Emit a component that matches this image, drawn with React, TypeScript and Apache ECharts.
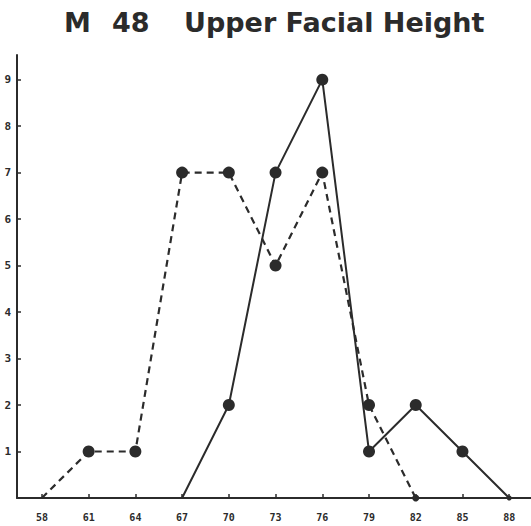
import React, { useEffect, useRef } from "react";
import * as echarts from "echarts";

const xTicks = [58, 61, 64, 67, 70, 73, 76, 79, 82, 85, 88];
const yTicks = [1, 2, 3, 4, 5, 6, 7, 8, 9];
const dashedX = [58, 61, 64, 67, 70, 73, 76, 79, 82];
const dashedY = [0, 1, 1, 7, 7, 5, 7, 2, 0];
const dashedSizes = [0, 12, 12, 12, 12, 12, 12, 12, 7];
const solidX = [67, 70, 73, 76, 79, 82, 85, 88];
const solidY = [0, 2, 7, 9, 1, 2, 1, 0];
const solidSizes = [0, 12, 12, 12, 12, 12, 12, 5];

const INK = "#2b2b2b";
const TITLE_FONT = "bold 27px 'DejaVu Sans', sans-serif";

export default function App() {
  const ref = useRef<HTMLDivElement>(null);
  useEffect(() => {
    const chart = echarts.init(ref.current!, null, { renderer: "svg" });
    chart.setOption({
      animation: false,
      backgroundColor: "#ffffff",
      graphic: [
        { type: "text", left: 64, top: 9, style: { text: "M", font: TITLE_FONT, fill: INK } },
        { type: "text", left: 112, top: 9, style: { text: "48", font: TITLE_FONT, fill: INK } },
        {
          type: "text",
          left: 184,
          top: 9,
          style: { text: "Upper Facial Height", font: TITLE_FONT, fill: INK },
        },
      ],
      grid: { left: 17, right: 0, top: 55, bottom: 28 },
      xAxis: {
        type: "value",
        min: 56.4,
        max: 89.4,
        splitLine: { show: false },
        axisLine: { lineStyle: { color: INK, width: 2 } },
        axisTick: {
          inside: true,
          length: 4,
          customValues: xTicks,
          lineStyle: { color: INK, width: 1.5 },
        },
        axisLabel: {
          customValues: xTicks,
          margin: 14,
          fontSize: 10,
          fontWeight: "bold",
          fontFamily: "DejaVu Sans Mono, monospace",
          color: INK,
        },
      },
      yAxis: {
        type: "value",
        min: 0,
        max: 9.53,
        splitLine: { show: false },
        axisLine: { show: true, lineStyle: { color: INK, width: 2 } },
        axisTick: {
          show: true,
          inside: true,
          length: 4,
          customValues: yTicks,
          lineStyle: { color: INK, width: 1.5 },
        },
        axisLabel: {
          customValues: yTicks,
          margin: 6,
          fontSize: 11,
          fontWeight: "bold",
          fontFamily: "DejaVu Sans Mono, monospace",
          color: INK,
        },
      },
      series: [
        {
          type: "line",
          data: dashedX.map((x, i) => ({
            value: [x, dashedY[i]],
            symbolSize: dashedSizes[i],
          })),
          symbol: "circle",
          itemStyle: { color: INK },
          lineStyle: { color: INK, width: 2.2, type: [7, 5] },
        },
        {
          type: "line",
          data: solidX.map((x, i) => ({
            value: [x, solidY[i]],
            symbolSize: solidSizes[i],
          })),
          symbol: "circle",
          itemStyle: { color: INK },
          lineStyle: { color: INK, width: 2 },
        },
      ],
    });
    return () => chart.dispose();
  }, []);
  return (
    <div
      ref={ref}
      style={{ position: "absolute", left: 0, top: 0, width: 531, height: 526 }}
    />
  );
}
